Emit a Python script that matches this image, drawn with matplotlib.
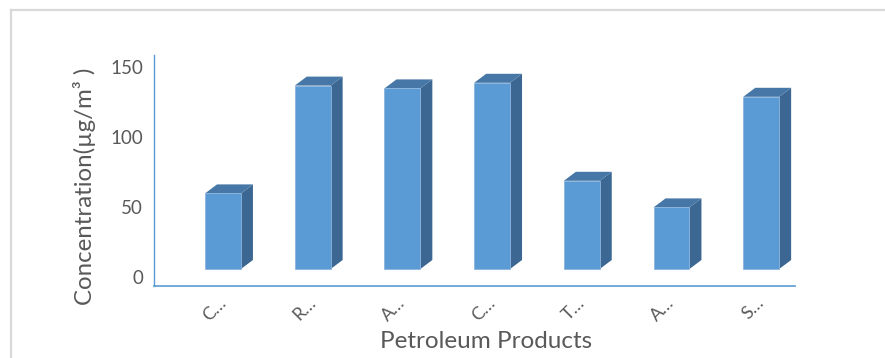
# ==========================================================
# petroleum products concentration - 3D style bar chart
# ==========================================================

import matplotlib
matplotlib.use("Agg")
import matplotlib.pyplot as plt
from matplotlib.patches import Polygon
from matplotlib.lines import Line2D
import matplotlib.transforms as mtransforms

# ==========================================================
# DATA
# ==========================================================

products = ["C…", "R…", "A…", "C…", "T…", "A…", "S…"]

concentration = [54, 131, 129, 133, 63, 44, 123]

y_ticks = [0, 50, 100, 150]

# ==========================================================
# STYLE
# ==========================================================

plt.rcParams["font.family"] = ["Lato", "DejaVu Sans"]

text_color = "#595959"
front_color = "#5B9BD5"
side_color = "#3B6792"
top_color = "#4677A6"
axis_color = "#5B9BD5"
frame_color = "#D9D9D9"

W, H, DPI = 885, 358, 100

fig = plt.figure(figsize=(W / DPI, H / DPI), dpi=DPI)

# axes box in pixels (left, top, right, bottom)
ax_l, ax_t, ax_r, ax_b = 154, 55, 795, 286
ax = fig.add_axes([ax_l / W, 1 - ax_b / H, (ax_r - ax_l) / W, (ax_b - ax_t) / H])

# ==========================================================
# BARS (front face + fake depth)
# ==========================================================

px_per_cat = 89.7
px_per_unit = 1.4
bar_w = 0.40
dx = 12 / px_per_cat
dy = 9 / px_per_unit

x = list(range(len(products)))

ax.bar(x, concentration, width=bar_w, color=front_color,
       edgecolor="#8DB4DE", linewidth=0.6, zorder=3)

for xi, v in zip(x, concentration):

    left = xi - bar_w / 2
    right = xi + bar_w / 2

    side = Polygon([(right, 0), (right + dx, dy), (right + dx, v + dy), (right, v)],
                   closed=True, facecolor=side_color, edgecolor="none", zorder=2)
    top = Polygon([(left, v), (left + dx, v + dy), (right + dx, v + dy), (right, v)],
                  closed=True, facecolor=top_color, edgecolor="none", zorder=2)

    ax.add_patch(side)
    ax.add_patch(top)

# ==========================================================
# AXES
# ==========================================================

ax.set_xlim((ax_l - 223) / px_per_cat, (ax_r - 223) / px_per_cat)
ax.set_ylim(-(ax_b - 269) / px_per_unit, (269 - ax_t) / px_per_unit)

for s in ["top", "right"]:
    ax.spines[s].set_visible(False)

ax.spines["left"].set_color(axis_color)
ax.spines["bottom"].set_color(axis_color)
ax.spines["left"].set_linewidth(1.0)
ax.spines["bottom"].set_linewidth(1.2)

ax.set_yticks(y_ticks)
ax.set_yticklabels([str(t) for t in y_ticks])
ax.set_xticks(x)
ax.set_xticklabels(products, rotation=45, ha="right", va="top")

ax.tick_params(axis="y", length=0, pad=8, labelsize=13.5, labelcolor=text_color)
ax.tick_params(axis="x", length=0, pad=6, labelsize=13, labelcolor=text_color)

# value labels sit a little lower than the bar floor (Excel 3D look)
y_shift = mtransforms.ScaledTranslation(0, -8 / DPI, fig.dpi_scale_trans)
for lab in ax.get_yticklabels():
    lab.set_transform(lab.get_transform() + y_shift)

x_shift = mtransforms.ScaledTranslation(6 / DPI, 0, fig.dpi_scale_trans)
for lab in ax.get_xticklabels():
    lab.set_transform(lab.get_transform() + x_shift)

# ==========================================================
# TITLES
# ==========================================================

fig.text(85 / W, 1 - 186 / H, "Concentration(µg/m³ )", rotation=90,
         ha="center", va="center", fontsize=17.3, color=text_color)

fig.text(486 / W, 1 - 342 / H, "Petroleum Products",
         ha="center", va="center", fontsize=17.5, color=text_color)

# ==========================================================
# OUTER FRAME
# ==========================================================

fig.add_artist(Line2D([11 / W, 11 / W], [0, 1 - 10 / H],
                      transform=fig.transFigure, color=frame_color, linewidth=1.6))
fig.add_artist(Line2D([11 / W, 1], [1 - 10 / H, 1 - 10 / H],
                      transform=fig.transFigure, color=frame_color, linewidth=1.6))

fig.savefig("out.png", dpi=DPI)
